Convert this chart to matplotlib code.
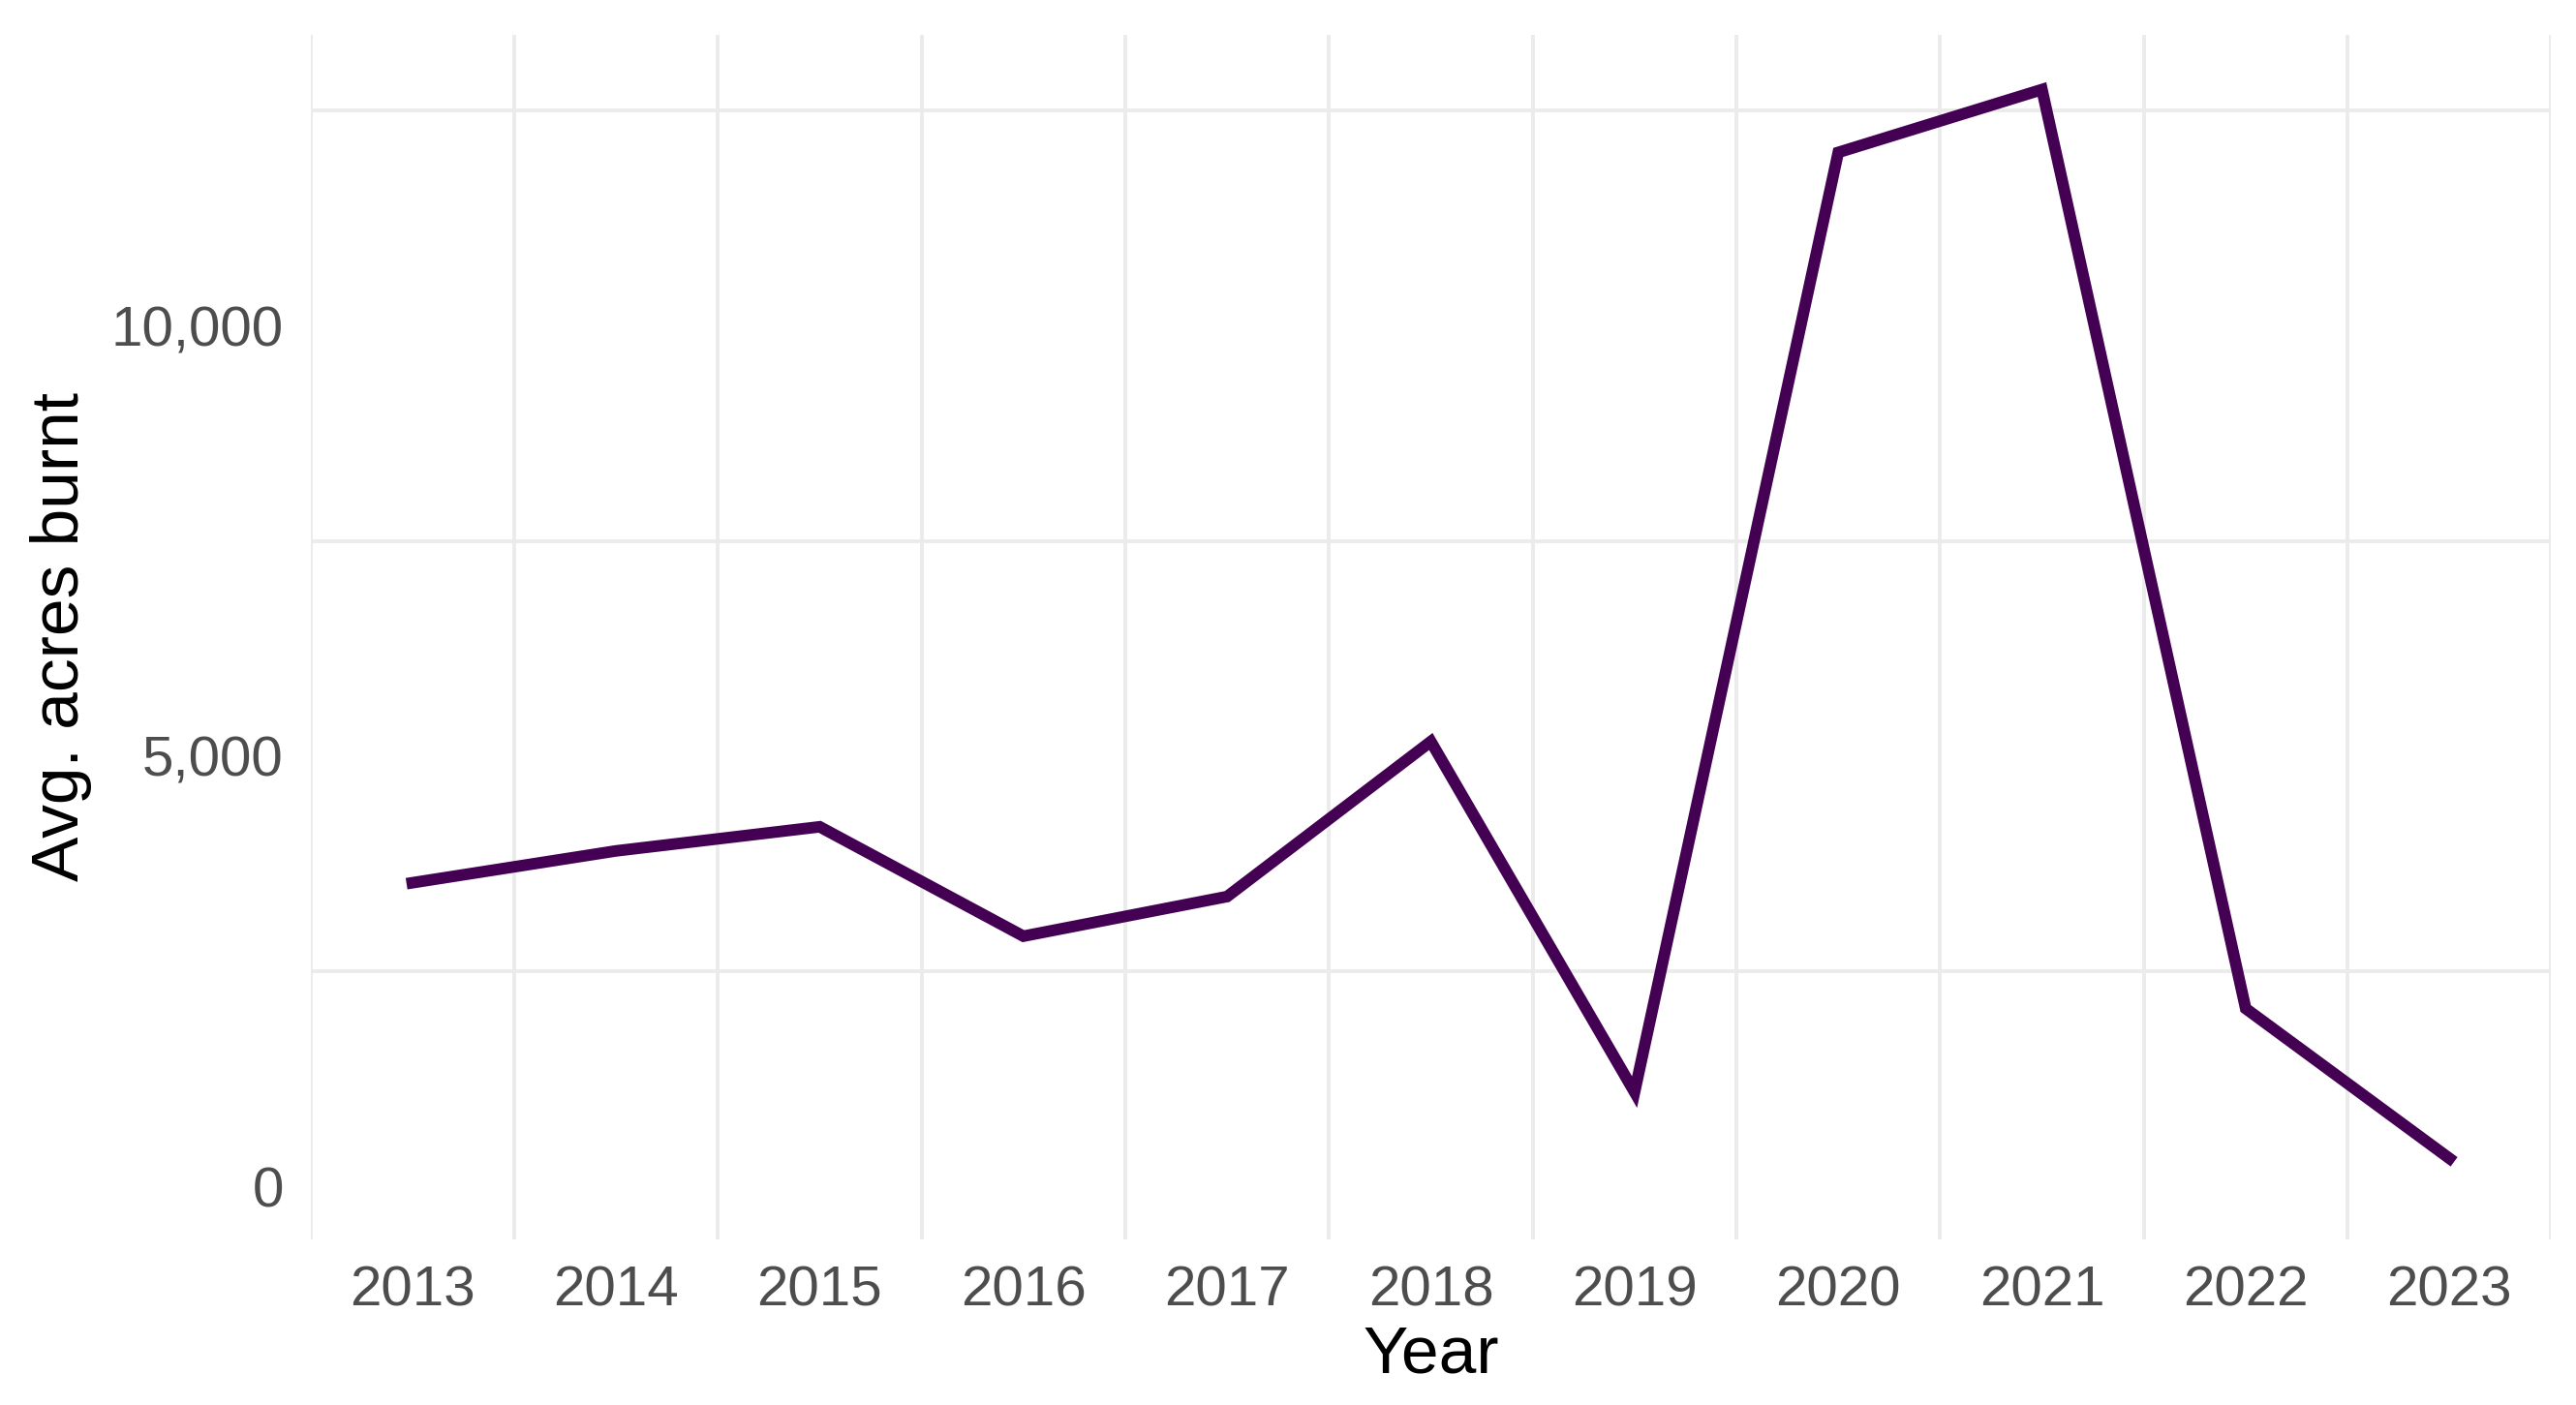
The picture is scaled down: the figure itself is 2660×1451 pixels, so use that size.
"""
Average acres burnt per year, line chart in a ggplot-minimal look
"""

import numpy as np
import matplotlib
matplotlib.use('Agg')
import matplotlib.pyplot as plt
from matplotlib.ticker import FuncFormatter

years = [2013, 2014, 2015, 2016, 2017, 2018, 2019, 2020, 2021, 2022, 2023]
avg_acres = [3530, 3900, 4180, 2910, 3370, 5170, 1100, 12010, 12740, 2070, 330]

y_major = [0, 5000, 10000]
y_minor = [2500, 7500, 12500]

plt.rcParams['font.family'] = ['Liberation Sans', 'DejaVu Sans']

fig = plt.figure(figsize=(13.3, 7.255), dpi=200)
ax = fig.add_axes([0.1205, 0.1179, 0.8699, 0.8573])

ax.plot(years, avg_acres, color='#440154', linewidth=4.3, solid_joinstyle='miter', zorder=3)

ax.set_xlim(2012.5, 2023.5)
ax.set_ylim(-610, 13375)

# only the minor grid is shown, as in the original
ax.set_xticks(years)
ax.set_xticks(np.arange(2012.5, 2024, 1), minor=True)
ax.set_yticks(y_major)
ax.set_yticks(y_minor, minor=True)
ax.yaxis.set_major_formatter(FuncFormatter(lambda v, p: f'{int(v):,}'))

ax.grid(which='major', visible=False)
ax.grid(which='minor', color='#EBEBEB', linewidth=1.4)
ax.set_axisbelow(True)

for s in ax.spines.values():
	s.set_visible(False)

ax.tick_params(which='both', length=0)
ax.tick_params(axis='x', which='major', labelsize=21, labelcolor='#4D4D4D', pad=9.4)
ax.tick_params(axis='y', which='major', labelsize=21, labelcolor='#4D4D4D', pad=10)

ax.set_xlabel('Year', fontsize=25, color='black', va='center')
ax.xaxis.set_label_coords(0.5, -0.0965)
ax.set_ylabel('Avg. acres burnt', fontsize=25, color='black', va='center')
ax.yaxis.set_label_coords(-0.1113, 0.5)

fig.savefig('out.png', dpi=200, facecolor='white')
